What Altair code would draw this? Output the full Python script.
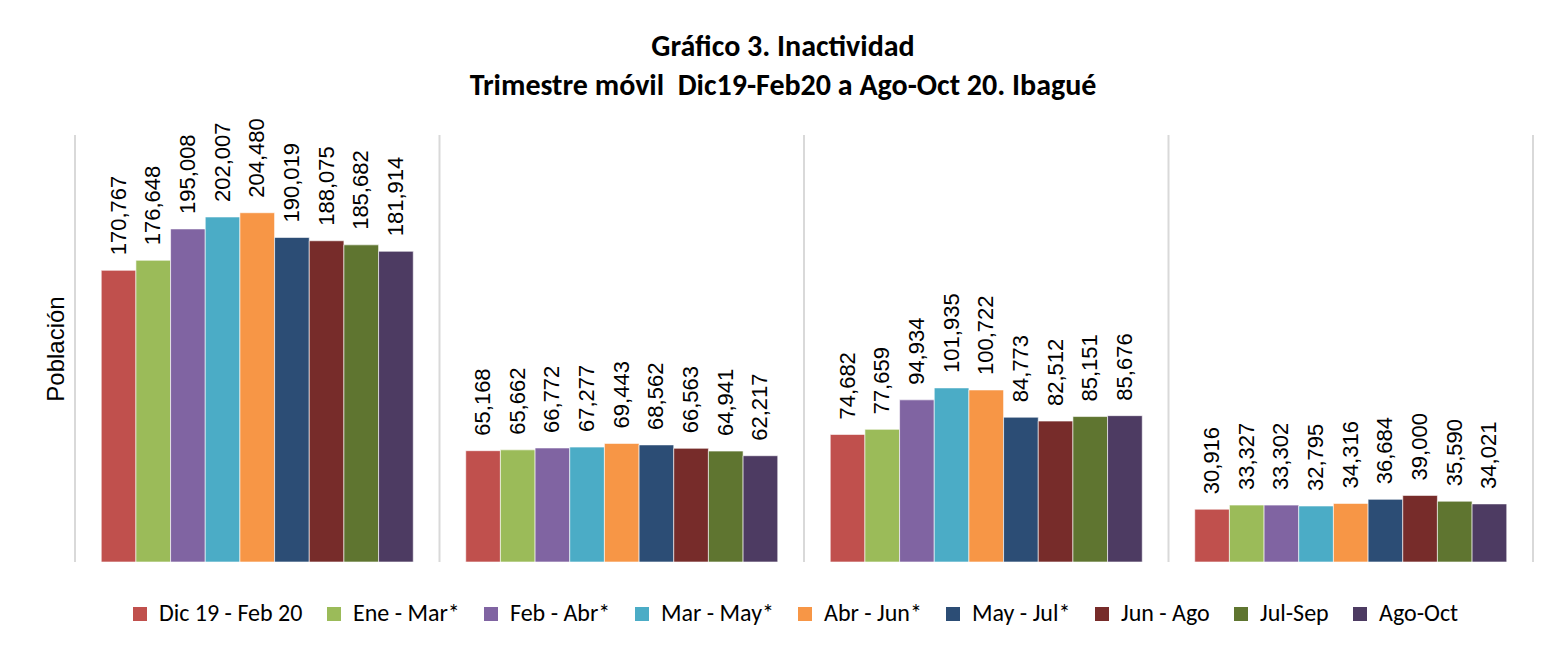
import altair as alt
import pandas as pd

grupos = ["Inactivos", "Estudiando", "Oficios del hogar", "Otros"]
periodos = ["Dic 19 - Feb 20", "Ene - Mar*", "Feb - Abr*", "Mar - May*", "Abr - Jun*",
            "May - Jul*", "Jun - Ago", "Jul-Sep", "Ago-Oct"]
colores = ["#C0504D", "#9BBB59", "#8064A2", "#4BACC6", "#F79646",
           "#2C4D75", "#772C2A", "#5F7530", "#4D3B62"]

inactivos = [170767, 176648, 195008, 202007, 204480, 190019, 188075, 185682, 181914]
estudiando = [65168, 65662, 66772, 67277, 69443, 68562, 66563, 64941, 62217]
hogar = [74682, 77659, 94934, 101935, 100722, 84773, 82512, 85151, 85676]
otros = [30916, 33327, 33302, 32795, 34316, 36684, 39000, 35590, 34021]

series = [inactivos, estudiando, hogar, otros]
rows = []
for g, vals in zip(grupos, series):
    for p, v in zip(periodos, vals):
        rows.append({"grupo": g, "periodo": p, "valor": v})
df = pd.DataFrame(rows)
bordes = pd.DataFrame({"grupo": grupos})
ultimo = pd.DataFrame({"grupo": grupos[-1:]})

xscale = alt.Scale(domain=grupos, paddingInner=0, paddingOuter=0)
xoff_scale = alt.Scale(domain=periodos, paddingInner=0, paddingOuter=0.757)
yscale = alt.Scale(domain=[0, 250000], nice=False)

FONT_CAL = "Carlito, Lato, sans-serif"

base = alt.Chart(df)

bars = base.mark_bar(stroke="white", strokeWidth=0.6).encode(
    x=alt.X("grupo:N", scale=xscale, sort=grupos,
            axis=alt.Axis(labels=False, ticks=False, domain=False, grid=False, title=None)),
    xOffset=alt.XOffset("periodo:N", scale=xoff_scale, sort=periodos),
    y=alt.Y("valor:Q", scale=yscale,
            axis=alt.Axis(labels=False, ticks=False, domain=False, grid=False,
                          title="Población", titleFont="Liberation Sans",
                          titleFontSize=24, titleFontWeight="normal",
                          titleColor="#000000", titlePadding=7)),
    color=alt.Color("periodo:N", sort=periodos,
                    scale=alt.Scale(domain=periodos, range=colores),
                    legend=alt.Legend(title=None, orient="none", direction="horizontal",
                                      columns=9, legendX=53, legendY=467,
                                      symbolType="square", symbolSize=196,
                                      symbolStrokeWidth=0, symbolOpacity=1,
                                      labelFont=FONT_CAL, labelFontSize=24,
                                      labelColor="#000000", labelOffset=7,
                                      columnPadding=19, labelLimit=300)),
)

labels = base.mark_text(angle=270, align="left", baseline="middle", dx=15,
                        font="Liberation Sans", fontSize=22, color="#000000").encode(
    x=alt.X("grupo:N", scale=xscale, sort=grupos),
    xOffset=alt.XOffset("periodo:N", scale=xoff_scale, sort=periodos),
    y=alt.Y("valor:Q", scale=yscale),
    text=alt.Text("valor:Q", format=",d"),
)

rules = alt.Chart(bordes).mark_rule(color="#D9D9D9", strokeWidth=2).encode(
    x=alt.X("grupo:N", scale=xscale, sort=grupos, bandPosition=0),
)
rule_end = alt.Chart(ultimo).mark_rule(color="#D9D9D9", strokeWidth=2).encode(
    x=alt.X("grupo:N", scale=xscale, sort=grupos, bandPosition=1),
)

chart = alt.layer(rules, rule_end, bars, labels).properties(
    width=1458,
    height=427,
    padding={"left": 36, "top": 24, "right": 5, "bottom": 5},
    title=alt.TitleParams(
        text=["Gráfico 3. Inactividad",
              "Trimestre móvil\u00a0\u00a0Dic19-Feb20 a Ago-Oct 20. Ibagué"],
        font=FONT_CAL, fontSize=30, fontWeight="bold", color="#000000",
        lineHeight=39, anchor="middle", dx=-21, offset=17,
    ),
).configure(background="white").configure_view(strokeWidth=0)

chart.save("out.html", embed_options={"renderer": "svg", "actions": False})
